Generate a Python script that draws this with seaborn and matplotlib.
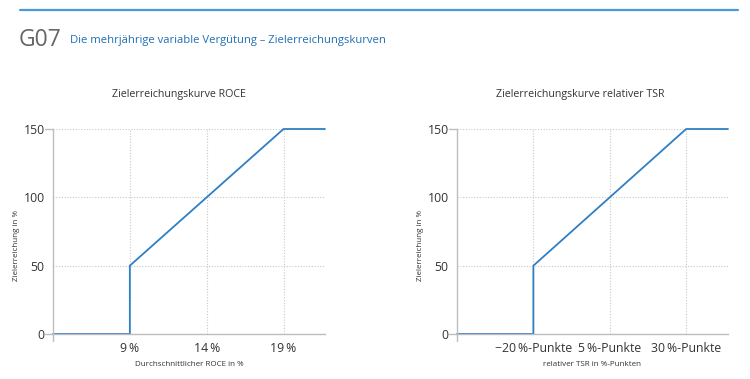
import matplotlib
matplotlib.use("Agg")
import matplotlib.pyplot as plt
import pandas as pd
import seaborn as sns

# ---------------------------------------------------------------------------
# Data
# ---------------------------------------------------------------------------
roce_x = [4, 9, 9, 19, 21.7]
roce_y = [0, 0, 50, 150, 150]
roce_ticks = [9, 14, 19]
roce_ticklabels = ["9\u2009%", "14\u2009%", "19\u2009%"]

tsr_x = [-45, -20, -20, 30, 43.7]
tsr_y = [0, 0, 50, 150, 150]
tsr_ticks = [-20, 5, 30]
tsr_ticklabels = ["\u221220\u2009%-Punkte", "5\u2009%-Punkte", "30\u2009%-Punkte"]

y_ticks = [0, 50, 100, 150]

BLUE = "#2f7fc4"
GRAY = "#bdbdbd"
TEXT = "#333333"

sns.set_theme(style="white")
plt.rcParams["font.family"] = ["Open Sans", "DejaVu Sans"]

fig = plt.figure(figsize=(7.5, 3.79), dpi=100)

# header
fig.add_artist(plt.Line2D([20 / 750, 738 / 750], [1 - 10 / 379] * 2,
                          color="#4a9ad8", linewidth=1.6))
fig.text(19 / 750, 1 - 40 / 379, "G07", fontsize=16.5, color="#666666",
         va="center", ha="left")
fig.text(70 / 750, 1 - 41 / 379,
         "Die mehrjährige variable Vergütung \u2013 Zielerreichungskurven",
         fontsize=8.1, color="#1f6fb5", va="center", ha="left")


def draw_panel(rect, xs, ys, ticks, ticklabels, title, xlabel, title_x):
    ax = fig.add_axes(rect)
    df = pd.DataFrame({"x": xs, "y": ys})
    sns.lineplot(data=df, x="x", y="y", ax=ax, color=BLUE, linewidth=1.3,
                 estimator=None, sort=False, clip_on=False)
    ax.set_xlim(xs[0], xs[-1])
    ax.set_ylim(0, 150)
    ax.set_xticks(ticks)
    ax.set_xticklabels(ticklabels)
    ax.set_yticks(y_ticks)
    ax.tick_params(axis="both", length=0, labelsize=8.8, labelcolor=TEXT, pad=6)
    ax.grid(True, which="major", linestyle=(0, (1, 1.5)), color="#c8c8c8",
            linewidth=0.8)
    for s in ["top", "right"]:
        ax.spines[s].set_visible(False)
    for s in ["left", "bottom"]:
        ax.spines[s].set_color(GRAY)
        ax.spines[s].set_linewidth(1)
    # short stubs where the spines run past the corner and at the 150 line
    stub = dict(color=GRAY, linewidth=1, clip_on=False, transform=ax.transAxes)
    ax.plot([0, 0], [0, -0.035], **stub)
    ax.plot([-0.03, 0], [0, 0], **stub)
    ax.plot([-0.03, 0], [1, 1], **stub)
    ax.set_axisbelow(True)
    ax.set_xlabel(xlabel, fontsize=5.8, color=TEXT, labelpad=4)
    ax.set_ylabel("Zielerreichung in %", fontsize=5.8, color=TEXT)
    ax.yaxis.set_label_coords(-0.122, 0.43)
    fig.text(title_x, 1 - 95 / 379, title, fontsize=7.7, color=TEXT,
             ha="center", va="center")
    return ax


draw_panel([53 / 750, 1 - 334 / 379, 272 / 750, 205 / 379],
           roce_x, roce_y, roce_ticks, roce_ticklabels,
           "Zielerreichungskurve ROCE", "Durchschnittlicher ROCE in %",
           179 / 750)
draw_panel([457 / 750, 1 - 334 / 379, 271 / 750, 205 / 379],
           tsr_x, tsr_y, tsr_ticks, tsr_ticklabels,
           "Zielerreichungskurve relativer TSR", "relativer TSR in %-Punkten",
           580 / 750)

fig.savefig("out.png", dpi=100, facecolor="white")
